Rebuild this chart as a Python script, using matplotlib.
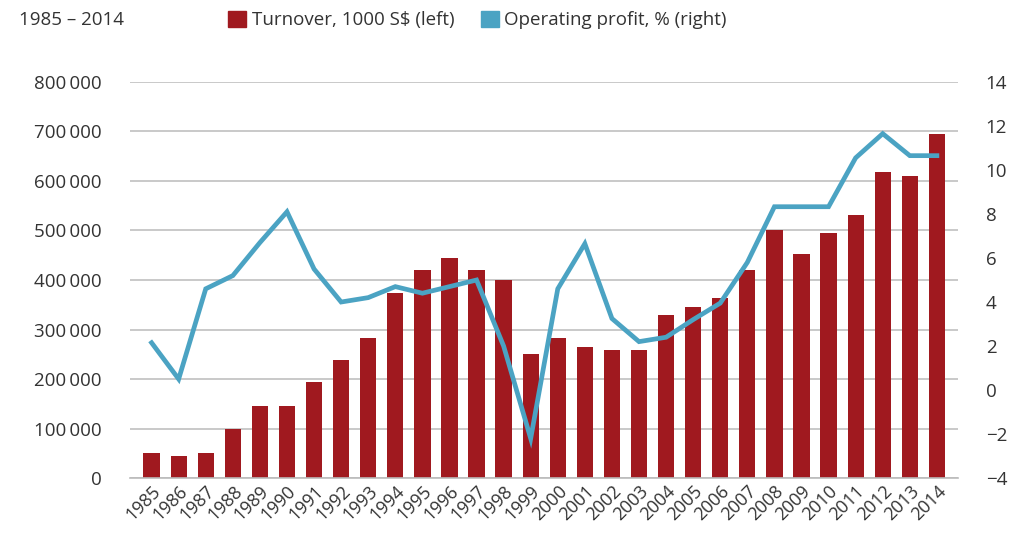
import matplotlib.pyplot as plt
import matplotlib.ticker as mticker
from matplotlib.patches import Patch
import numpy as np

plt.rcParams['font.family'] = ['Open Sans', 'DejaVu Sans']

# data
years = [str(y) for y in range(1985, 2015)]
turnover = [50000, 45000, 50000, 100000, 145000, 145000, 195000, 238000, 283000, 373000,
            420000, 444000, 420000, 400000, 250000, 283000, 265000, 259000, 259000, 329000,
            345000, 364000, 420000, 500000, 452000, 495000, 531000, 618000, 610000, 695000]
profit = [2.15, 0.5, 4.6, 5.2, 6.7, 8.1, 5.5, 4.0, 4.2, 4.7,
          4.4, 4.7, 5.0, 2.0, -2.2, 4.6, 6.65, 3.25, 2.2, 2.4,
          3.2, 3.95, 5.8, 8.33, 8.33, 8.33, 10.55, 11.65, 10.65, 10.65]

red = '#a0191f'
blue = '#4ba3c3'
txt = '#333333'
fs = 13.5

fig = plt.figure(figsize=(10.29, 5.39), dpi=100)
ax = fig.add_axes([0.126, 0.113, 0.805, 0.735])
x = np.arange(len(years))

ax.bar(x, turnover, width=0.6, color=red, zorder=2)
ax.set_ylim(0, 800000)
ax.set_xlim(-0.81, 29.78)
ax.yaxis.set_major_locator(mticker.MultipleLocator(100000))
ax.yaxis.set_major_formatter(mticker.FuncFormatter(
    lambda v, p: '{:,}'.format(int(v)).replace(',', '\u2009')))
ax.grid(axis='y', color='#c0c0c0', linewidth=1.2, zorder=0)

ax2 = ax.twinx()
ax2.plot(x, profit, color=blue, linewidth=3.4, solid_joinstyle='miter', zorder=3)
ax2.set_ylim(-4, 14)
ax2.yaxis.set_major_locator(mticker.MultipleLocator(2))

for a in (ax, ax2):
    for s in a.spines.values():
        s.set_visible(False)
    a.tick_params(length=0, labelsize=fs, colors=txt, pad=20)
ax.spines['bottom'].set_visible(True)
ax.spines['bottom'].set_color('#bbbbbb')
ax.spines['bottom'].set_linewidth(1.2)

ax.set_xticks(x)
ax.set_xticklabels(years, rotation=45, ha='right', rotation_mode='anchor')
ax.tick_params(axis='x', pad=3, labelsize=13)

fig.text(0.018, 0.963, '1985 \u2013 2014', fontsize=fs, color=txt, va='center')
handles = [Patch(color=red, label='Turnover, 1000 S$ (left)'),
           Patch(color=blue, label='Operating profit, % (right)')]
leg = fig.legend(handles=handles, loc='center left', bbox_to_anchor=(0.2216, 0.963),
                 ncol=2, frameon=False, fontsize=fs, handlelength=0.96, handleheight=0.96,
                 handletextpad=0.3, columnspacing=1.4, borderaxespad=0, borderpad=0)
for t in leg.get_texts():
    t.set_color(txt)

fig.savefig('out.png', dpi=100)
